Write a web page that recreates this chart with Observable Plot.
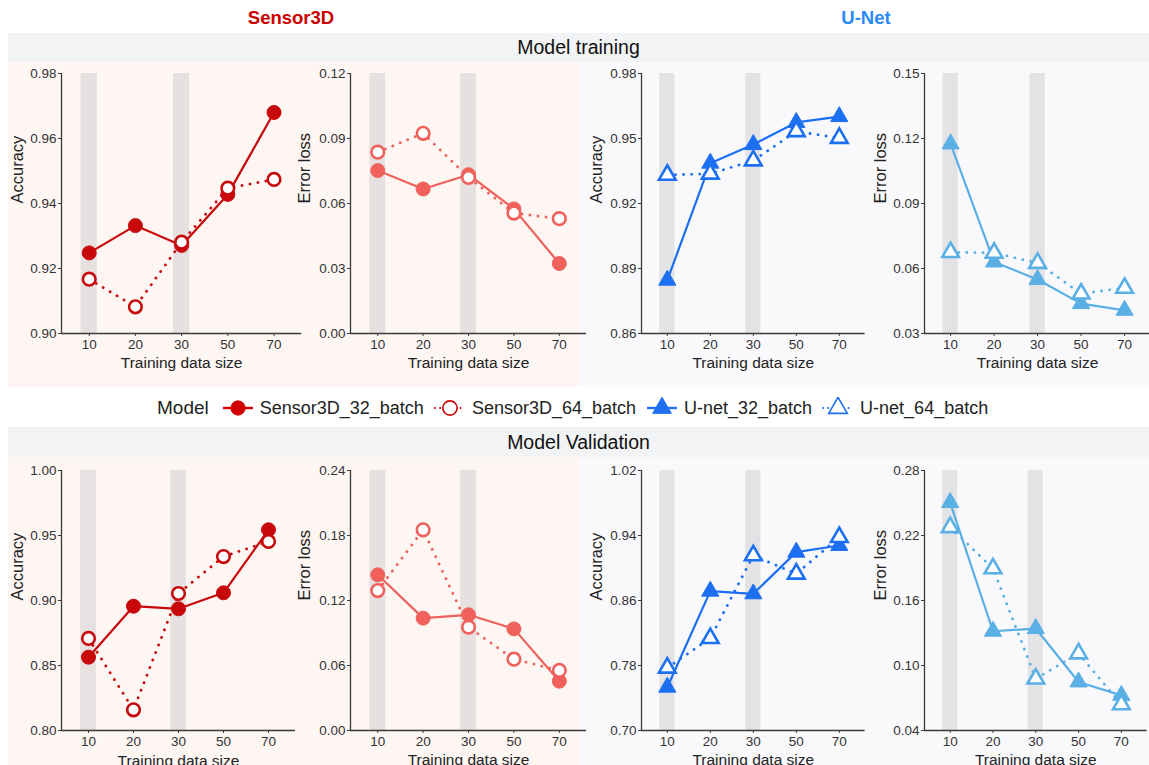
<!DOCTYPE html>
<html><head><meta charset="utf-8">
<script src="https://cdn.jsdelivr.net/npm/d3@7"></script>
<script src="https://cdn.jsdelivr.net/npm/@observablehq/plot@0.6"></script>
<style>
body{margin:0;background:#fff;font-family:"Liberation Sans",Arial,sans-serif;}
#root{position:relative;width:1149px;height:765px;overflow:hidden;background:#fff;}
.abs{position:absolute;}
.strip{position:absolute;background:#f2f3f4;color:#111;font-size:19.5px;display:flex;align-items:center;justify-content:center;}
.ttl{position:absolute;font-weight:bold;font-size:18.5px;transform:translate(-50%,-50%);}
#legend{position:absolute;left:0;width:1149px;top:396px;height:24px;display:flex;align-items:center;justify-content:flex-start;font-size:18px;color:#222;}
#legend .item{display:flex;align-items:center;margin-right:10px;}
#legend svg{margin-right:6px;}
svg.panel{position:absolute;overflow:visible;}
</style></head><body><div id="root"></div>
<script>
// ---------- data ----------
const trainingSizes = ["10","20","30","50","70"];
const highlightSizes = ["10","30"];
const seriesNames = ["Sensor3D_32_batch","Sensor3D_64_batch","U-net_32_batch","U-net_64_batch"];

const yTicksSensorTrainAcc  = [0.90,0.92,0.94,0.96,0.98];
const yTicksSensorTrainLoss = [0.00,0.03,0.06,0.09,0.12];
const yTicksUnetTrainAcc    = [0.86,0.89,0.92,0.95,0.98];
const yTicksUnetTrainLoss   = [0.03,0.06,0.09,0.12,0.15];
const yTicksSensorValAcc    = [0.80,0.85,0.90,0.95,1.00];
const yTicksSensorValLoss   = [0.00,0.06,0.12,0.18,0.24];
const yTicksUnetValAcc      = [0.70,0.78,0.86,0.94,1.02];
const yTicksUnetValLoss     = [0.04,0.10,0.16,0.22,0.28];

const sensorTrainAcc32  = [0.9248,0.9332,0.9271,0.9428,0.9680];
const sensorTrainAcc64  = [0.9167,0.9082,0.9281,0.9447,0.9474];
const sensorTrainLoss32 = [0.0752,0.0667,0.0733,0.0575,0.0323];
const sensorTrainLoss64 = [0.0837,0.0924,0.0720,0.0556,0.0530];
const unetTrainAcc32    = [0.8846,0.9386,0.9472,0.9574,0.9601];
const unetTrainAcc64    = [0.9332,0.9337,0.9398,0.9533,0.9502];
const unetTrainLoss32   = [0.1175,0.0630,0.0549,0.0438,0.0407];
const unetTrainLoss64   = [0.0675,0.0672,0.0625,0.0484,0.0510];
const sensorValAcc32    = [0.8564,0.8956,0.8936,0.9059,0.9544];
const sensorValAcc64    = [0.8708,0.8159,0.9054,0.9338,0.9454];
const sensorValLoss32   = [0.1437,0.1037,0.1068,0.0938,0.0455];
const sensorValLoss64   = [0.1292,0.1852,0.0954,0.0658,0.0554];
const unetValAcc32      = [0.7533,0.8715,0.8682,0.9195,0.9277];
const unetValAcc64      = [0.7771,0.8136,0.9154,0.8928,0.9379];
const unetValLoss32     = [0.2504,0.1316,0.1341,0.0848,0.0724];
const unetValLoss64     = [0.2276,0.1896,0.0878,0.1110,0.0641];

// ---------- styles ----------
const C = {
  sAcc: "#c8090b", sLoss: "#f0615b", uAcc: "#1c6ff0", uLoss: "#5aafe4",
  sTitle: "#cc0000", uTitle: "#2b8af5",
  sBg: "#fdf6f3", uBg: "#f9f9fc"
};

const root = document.getElementById("root");
function div(cls, style, text) {
  const d = document.createElement("div");
  if (cls) d.className = cls;
  Object.assign(d.style, style);
  if (text != null) d.textContent = text;
  root.appendChild(d);
  return d;
}

// backgrounds
div("abs", {left:"8px", top:"62px", width:"572px", height:"325px", background:C.sBg});
div("abs", {left:"580px", top:"62px", width:"569px", height:"325px", background:C.uBg});
div("abs", {left:"8px", top:"457px", width:"572px", height:"320px", background:C.sBg});
div("abs", {left:"580px", top:"457px", width:"569px", height:"320px", background:C.uBg});
// strips
div("strip", {left:"8px", top:"33px", width:"1141px", height:"29px"}, "Model training");
div("strip", {left:"8px", top:"427px", width:"1141px", height:"30px"}, "Model Validation");
// titles
div("ttl", {left:"291px", top:"18px", color:C.sTitle}, "Sensor3D");
div("ttl", {left:"866px", top:"18px", color:C.uTitle}, "U-Net");

// ---------- panels ----------
function rows(vals) { return vals.map((v, i) => ({i, size: trainingSizes[i], v})); }

function panel(cfg) {
  const H = 318;
  const ml = cfg.axisX - cfg.svgLeft;
  const mr = 4;
  const W = ml + 5.2 * cfg.step + mr;
  const mt = cfg.yTop - cfg.svgTop;
  const mb = cfg.svgTop + H - cfg.yBot;
  const dom = [cfg.ticks[0], cfg.ticks[cfg.ticks.length - 1]];
  const hl = highlightSizes.map(s => trainingSizes.indexOf(s));
  const r32 = rows(cfg.s32), r64 = rows(cfg.s64);
  const tri = cfg.symbol === "triangle";
  const chart = Plot.plot({
    width: W, height: H,
    marginLeft: ml, marginRight: mr, marginTop: mt, marginBottom: mb,
    style: {background: "transparent", fontFamily: "'Liberation Sans', Arial, sans-serif", color: "#333", overflow: "visible"},
    x: {type: "linear", domain: [-0.6, 4.6], axis: null},
    y: {type: "linear", domain: dom, axis: null},
    marks: [
      Plot.rect(hl, {x1: d => d - 0.175, x2: d => d + 0.175, y1: dom[0], y2: dom[1], fill: "#c4c4c4", fillOpacity: 0.4}),
      Plot.ruleX([-0.6], {stroke: "#3a3a3a", strokeWidth: 1.3}),
      Plot.ruleY([dom[0]], {stroke: "#3a3a3a", strokeWidth: 1.3}),
      Plot.axisY({ticks: cfg.ticks, tickFormat: d3.format(".2f"), tickSize: 3, tickPadding: 2, fontSize: 13.5,
        stroke: "#3a3a3a", fill: "#333", label: null}),
      Plot.axisX({ticks: [0,1,2,3,4], tickFormat: i => trainingSizes[i], tickSize: 3, tickPadding: 3, fontSize: 13.5,
        stroke: "#3a3a3a", fill: "#333", label: null}),
      Plot.text([cfg.label], {frameAnchor: "left", dx: -(cfg.axisX - cfg.labelX), rotate: -90, fontSize: 16.5, fill: "#222"}),
      Plot.text(["Training data size"], {frameAnchor: "bottom", dy: 35, fontSize: 15.5, fill: "#222"}),
      Plot.line(r32, {x: "i", y: "v", stroke: cfg.color, strokeWidth: 2.2}),
      Plot.line(r64, {x: "i", y: "v", stroke: cfg.color, strokeWidth: 2.8, strokeDasharray: "0.1 8", strokeLinecap: "round"}),
      Plot.dot(r32, {x: "i", y: "v", r: tri ? 6.4 : 7, symbol: cfg.symbol, fill: cfg.color, stroke: cfg.color, strokeWidth: 1}),
      Plot.dot(r64, {x: "i", y: "v", r: tri ? 6.2 : 6.3, symbol: cfg.symbol, fill: "white", stroke: cfg.color, strokeWidth: 2.6})
    ]
  });
  chart.classList.add("panel");
  chart.style.left = cfg.svgLeft + "px";
  chart.style.top = cfg.svgTop + "px";
  root.appendChild(chart);
}

const topRow = {svgTop: 62, yTop: 73, yBot: 333};
const botRow = {svgTop: 457, yTop: 470, yBot: 730};
const panels = [
  {...topRow, svgLeft: 8,   axisX: 61,  step: 46.2, labelX: 17,  ticks: yTicksSensorTrainAcc,  label: "Accuracy",   color: C.sAcc,  symbol: "circle",   s32: sensorTrainAcc32,  s64: sensorTrainAcc64},
  {...topRow, svgLeft: 296, axisX: 350, step: 45.4, labelX: 304.5, ticks: yTicksSensorTrainLoss, label: "Error loss", color: C.sLoss, symbol: "circle",   s32: sensorTrainLoss32, s64: sensorTrainLoss64},
  {...topRow, svgLeft: 586, axisX: 641, step: 43.0, labelX: 596, ticks: yTicksUnetTrainAcc,    label: "Accuracy",   color: C.uAcc,  symbol: "triangle", s32: unetTrainAcc32,    s64: unetTrainAcc64},
  {...topRow, svgLeft: 870, axisX: 924, step: 43.5, labelX: 880, ticks: yTicksUnetTrainLoss,   label: "Error loss", color: C.uLoss, symbol: "triangle", s32: unetTrainLoss32,   s64: unetTrainLoss64},
  {...botRow, svgLeft: 8,   axisX: 61,  step: 45.0, labelX: 17,  ticks: yTicksSensorValAcc,    label: "Accuracy",   color: C.sAcc,  symbol: "circle",   s32: sensorValAcc32,    s64: sensorValAcc64},
  {...botRow, svgLeft: 296, axisX: 350, step: 45.4, labelX: 304.5, ticks: yTicksSensorValLoss,   label: "Error loss", color: C.sLoss, symbol: "circle",   s32: sensorValLoss32,   s64: sensorValLoss64},
  {...botRow, svgLeft: 586, axisX: 641, step: 43.0, labelX: 596, ticks: yTicksUnetValAcc,      label: "Accuracy",   color: C.uAcc,  symbol: "triangle", s32: unetValAcc32,      s64: unetValAcc64},
  {...botRow, svgLeft: 870, axisX: 924, step: 42.8, labelX: 880, ticks: yTicksUnetValLoss,     label: "Error loss", color: C.uLoss, symbol: "triangle", s32: unetValLoss32,     s64: unetValLoss64}
];
panels.forEach(panel);

// ---------- legend ----------
const legend = div(null, {}); legend.id = "legend";
legend.style.paddingLeft = "157px";
legend.style.width = "992px";
const lt = document.createElement("span"); lt.textContent = "Model"; lt.style.fontSize = "19px"; lt.style.marginRight = "13px";
legend.appendChild(lt);
const keyDefs = [
  {name: seriesNames[0], color: "#d00000", symbol: d3.symbolCircle, filled: true, dotted: false},
  {name: seriesNames[1], color: "#d00000", symbol: d3.symbolCircle, filled: false, dotted: true},
  {name: seriesNames[2], color: "#1f6ff0", symbol: d3.symbolTriangle, filled: true, dotted: false},
  {name: seriesNames[3], color: "#1f6ff0", symbol: d3.symbolTriangle, filled: false, dotted: true}
];
keyDefs.forEach(k => {
  const item = document.createElement("span"); item.className = "item";
  const svg = d3.create("svg").attr("width", 32).attr("height", 22);
  svg.append("line").attr("x1", 1).attr("x2", 31).attr("y1", 11).attr("y2", 11)
    .attr("stroke", k.color).attr("stroke-width", k.dotted ? 2 : 2.4)
    .attr("stroke-dasharray", k.dotted ? "0.1 5" : null).attr("stroke-linecap", k.dotted ? "round" : "butt");
  const tri = k.symbol === d3.symbolTriangle;
  svg.append("path").attr("transform", "translate(16,11)")
    .attr("d", d3.symbol(k.symbol, tri ? 150 : 160)())
    .attr("fill", k.filled ? k.color : "white").attr("stroke", k.color).attr("stroke-width", k.filled ? 1 : 1.6);
  item.appendChild(svg.node());
  const t = document.createElement("span"); t.textContent = k.name;
  item.appendChild(t);
  legend.appendChild(item);
});
</script></body></html>
